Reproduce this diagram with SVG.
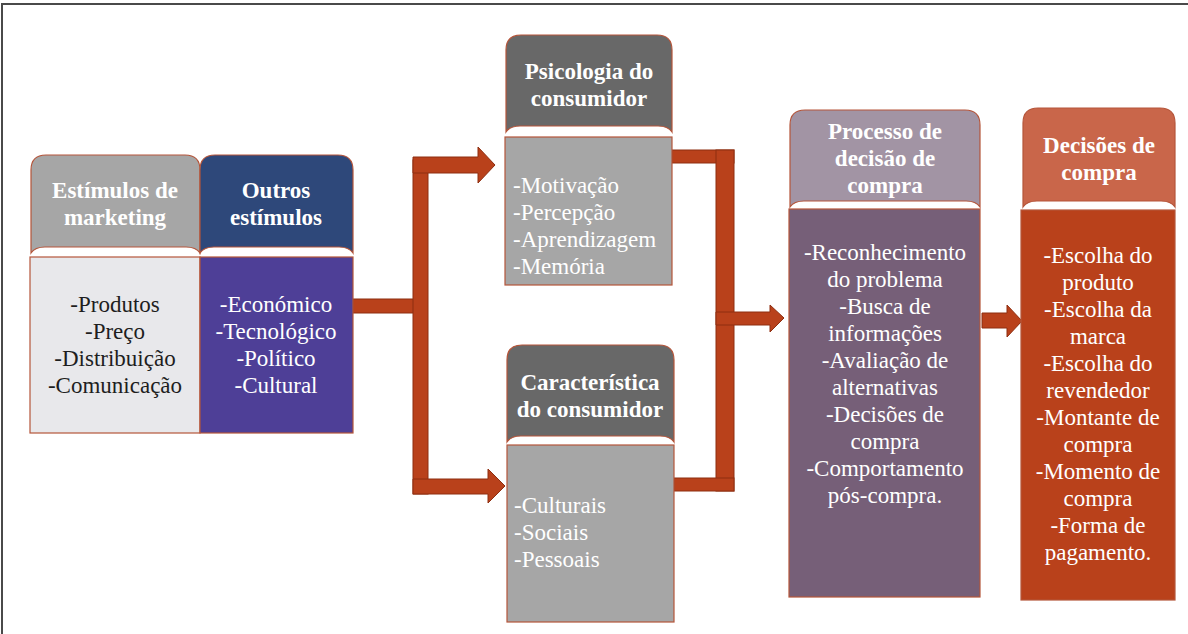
<svg xmlns="http://www.w3.org/2000/svg" width="1188" height="634" viewBox="0 0 1188 634" font-family="'Liberation Serif', 'DejaVu Serif', serif">
<style>
.hd{font-weight:bold;font-size:23px;fill:#ffffff;text-anchor:middle}
.tx{font-size:23px;fill:#ffffff}
.c{text-anchor:middle}
.dk{fill:#1e1e1e}
.sh{stroke:#b5553a;stroke-width:1.2}
.cn{fill:#b9411b;stroke:#8e2e10;stroke-width:1}
</style>
<rect x="0" y="0" width="1188" height="634" fill="#ffffff"/>
<g id="frame" fill="none" stroke="#4a4a4a" stroke-width="2">
<path d="M2,634 L2,4 L1188,4"/>
</g>
<g id="connectors">
<rect class="cn" x="353" y="299" width="62" height="14"/>
<rect class="cn" x="413" y="160" width="15" height="334"/>
<path class="cn" d="M413,157 L478,157 L478,147 L495,165 L478,183 L478,173 L413,173 Z"/>
<path class="cn" d="M413,479 L488,479 L488,469 L505,486 L488,503 L488,494 L413,494 Z"/>
<rect class="cn" x="672" y="150" width="62" height="13"/>
<rect class="cn" x="716" y="150" width="18" height="341"/>
<rect class="cn" x="674" y="478" width="60" height="13"/>
<path class="cn" d="M716,312 L770,312 L770,305 L784,318 L770,332 L770,325 L716,325 Z"/>
<path class="cn" d="M982,313 L1007,313 L1007,305 L1022,321 L1007,337 L1007,328 L982,328 Z"/>
</g>
<g id="estimulos-marketing">
<path class="sh" fill="#a6a6a6" d="M31,253 L31,170 Q31,155 46,155 L185,155 Q200,155 200,170 L200,253 Q196,247 186,247 L45,247 Q35,247 31,253 Z"/>
<text class="hd" x="115" y="198">Estímulos de</text>
<text class="hd" x="115" y="225">marketing</text>
<rect class="sh" fill="#e8e8eb" x="30" y="257" width="170" height="176"/>
<text class="tx dk c" x="115" y="312">-Produtos</text>
<text class="tx dk c" x="115" y="339">-Preço</text>
<text class="tx dk c" x="115" y="366">-Distribuição</text>
<text class="tx dk c" x="115" y="393">-Comunicação</text>
</g>
<g id="outros-estimulos">
<path class="sh" fill="#2e487a" d="M200,253 L200,170 Q200,155 215,155 L338,155 Q353,155 353,170 L353,253 Q349,247 339,247 L214,247 Q204,247 200,253 Z"/>
<text class="hd" x="276" y="198">Outros</text>
<text class="hd" x="276" y="225">estímulos</text>
<rect class="sh" fill="#4e3f97" x="200" y="257" width="153" height="176"/>
<text class="tx c" x="276" y="312">-Económico</text>
<text class="tx c" x="276" y="339">-Tecnológico</text>
<text class="tx c" x="276" y="366">-Político</text>
<text class="tx c" x="276" y="393">-Cultural</text>
</g>
<g id="psicologia">
<path class="sh" fill="#686868" d="M506,132 L506,50 Q506,35 521,35 L657,35 Q672,35 672,50 L672,132 Q668,126 658,126 L520,126 Q510,126 506,132 Z"/>
<text class="hd" x="589" y="79">Psicologia do</text>
<text class="hd" x="589" y="106">consumidor</text>
<rect class="sh" fill="#a6a6a6" x="505" y="137" width="167" height="148"/>
<text class="tx" x="513" y="193">-Motivação</text>
<text class="tx" x="513" y="220">-Percepção</text>
<text class="tx" x="513" y="247">-Aprendizagem</text>
<text class="tx" x="513" y="274">-Memória</text>
</g>
<g id="caracteristica">
<path class="sh" fill="#686868" d="M507,442 L507,360 Q507,345 522,345 L659,345 Q674,345 674,360 L674,442 Q670,436 660,436 L521,436 Q511,436 507,442 Z"/>
<text class="hd" x="590" y="390">Característica</text>
<text class="hd" x="590" y="417">do consumidor</text>
<rect class="sh" fill="#a6a6a6" x="507" y="445" width="167" height="177"/>
<text class="tx" x="514" y="513">-Culturais</text>
<text class="tx" x="514" y="540">-Sociais</text>
<text class="tx" x="514" y="567">-Pessoais</text>
</g>
<g id="processo">
<path class="sh" fill="#a294a4" d="M790,207 L790,125 Q790,110 805,110 L965,110 Q980,110 980,125 L980,207 Q976,201 966,201 L804,201 Q794,201 790,207 Z"/>
<text class="hd" x="885" y="139">Processo de</text>
<text class="hd" x="885" y="166">decisão de</text>
<text class="hd" x="885" y="193">compra</text>
<rect class="sh" fill="#765f78" x="789" y="209" width="191" height="388"/>
<text class="tx c" x="885" y="260">-Reconhecimento</text>
<text class="tx c" x="885" y="287">do problema</text>
<text class="tx c" x="885" y="314">-Busca de</text>
<text class="tx c" x="885" y="341">informações</text>
<text class="tx c" x="885" y="368">-Avaliação de</text>
<text class="tx c" x="885" y="395">alternativas</text>
<text class="tx c" x="885" y="422">-Decisões de</text>
<text class="tx c" x="885" y="449">compra</text>
<text class="tx c" x="885" y="476">-Comportamento</text>
<text class="tx c" x="885" y="503">pós-compra.</text>
</g>
<g id="decisoes">
<path class="sh" fill="#c9664a" d="M1023,207 L1023,123 Q1023,108 1038,108 L1160,108 Q1175,108 1175,123 L1175,207 Q1171,201 1161,201 L1037,201 Q1027,201 1023,207 Z"/>
<text class="hd" x="1099" y="153">Decisões de</text>
<text class="hd" x="1099" y="180">compra</text>
<rect class="sh" fill="#b9411b" x="1021" y="210" width="154" height="390"/>
<text class="tx c" x="1098" y="263">-Escolha do</text>
<text class="tx c" x="1098" y="290">produto</text>
<text class="tx c" x="1098" y="317">-Escolha da</text>
<text class="tx c" x="1098" y="344">marca</text>
<text class="tx c" x="1098" y="371">-Escolha do</text>
<text class="tx c" x="1098" y="398">revendedor</text>
<text class="tx c" x="1098" y="425">-Montante de</text>
<text class="tx c" x="1098" y="452">compra</text>
<text class="tx c" x="1098" y="479">-Momento de</text>
<text class="tx c" x="1098" y="506">compra</text>
<text class="tx c" x="1098" y="533">-Forma de</text>
<text class="tx c" x="1098" y="560">pagamento.</text>
</g>
</svg>
